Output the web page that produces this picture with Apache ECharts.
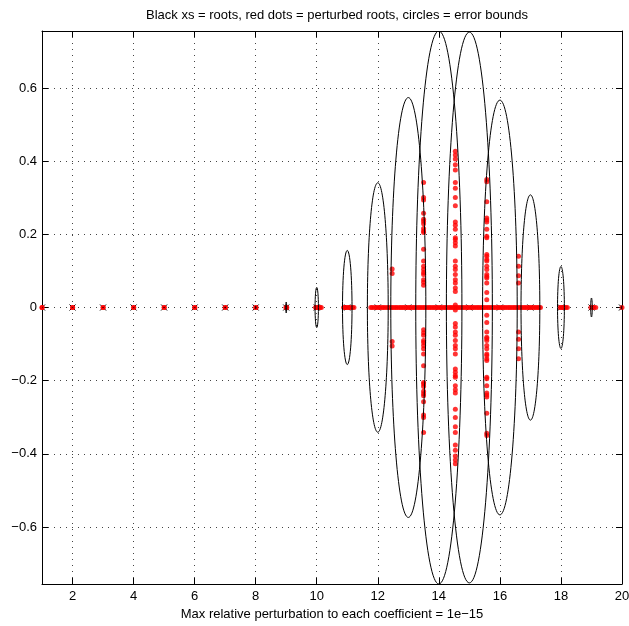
<!DOCTYPE html>
<html><head><meta charset="utf-8">
<script src="https://cdn.jsdelivr.net/npm/echarts@6/dist/echarts.min.js"></script>
<style>html,body{margin:0;padding:0;background:#fff}#c{width:629px;height:626px}</style>
</head><body><div id="c"></div>
<script>
// ---- data ----
const titleText = 'Black xs = roots, red dots = perturbed roots, circles = error bounds';
const xLabelText = 'Max relative perturbation to each coefficient = 1e\u221215';
const roots = [1,2,3,4,5,6,7,8,9,10,11,12,13,14,15,16,17,18,19,20];
const boundRadii = [0.0005,0.0005,0.0005,0.0008,0.001,0.001,0.0015,0.003,0.015,0.055,0.156,0.341,0.574,0.756,0.753,0.567,0.308,0.112,0.026,0.005];
const xTicks = [2,4,6,8,10,12,14,16,18,20];
const yTicks = [-0.6,-0.4,-0.2,0,0.2,0.4,0.6];
const xRange = [1, 20];
const yRange = [-0.756, 0.756];

// perturbed roots lying on the real axis
const realPerturbed = [
  1.0,1.003,2.0,2.004,3.0,3.005,4.0,4.006,5.0,5.006,6.0,6.008,7.0,7.01,8.0,8.012,
  8.99,9.005,9.02,
  9.96,9.99,10.03,10.07,10.11,10.15,
  10.88,10.92,10.97,11.02,11.07,11.12,11.17,11.22,
  11.77,11.82,11.89,11.95,12.01,12.06,12.13,12.18,12.24,12.31,12.36,12.42,12.47,12.53,12.59,12.64,12.71,
  12.76,12.82,12.87,12.93,12.99,13.04,13.1,13.16,13.21,13.27,13.33,13.38,13.44,13.5,13.55,13.61,13.67,
  13.72,13.78,13.84,13.89,13.95,14.01,14.06,14.12,14.18,14.23,14.29,14.35,14.4,14.46,14.52,14.58,14.63,
  14.69,14.75,14.8,14.86,14.92,14.97,15.03,15.09,15.14,15.2,15.26,15.31,15.37,15.43,15.48,15.54,15.6,
  15.65,15.71,15.77,15.82,15.88,15.94,15.99,16.05,16.11,16.16,16.22,16.28,16.33,16.39,16.45,16.5,16.56,
  16.62,16.67,16.73,16.79,16.84,16.9,16.96,17.01,17.07,17.13,17.18,17.24,17.29,17.33,
  17.97,18.01,18.06,18.11,18.16,18.21,
  18.98,19.03,19.08,19.14,
  20.0,20.04
];
// complex conjugate pairs: real part of each column and positive imaginary parts
const colX = [12.47, 13.50, 14.54, 15.57, 16.61];
const colImag1 = [0.105, 0.093];
const colImag2 = [0.342,0.301,0.294,0.258,0.241,0.236,0.229,0.216,0.209,0.205,0.159,0.127,0.113,0.104,0.096,0.090,0.076,0.069,0.061];
const colImag3 = [0.427,0.417,0.406,0.390,0.376,0.342,0.326,0.301,0.278,0.234,0.225,0.214,0.191,0.186,0.177,0.168,0.127,0.113,0.104,0.090,0.076,0.067,0.053,0.044,0.007];
const colImag4 = [0.350,0.344,0.289,0.245,0.239,0.234,0.214,0.195,0.191,0.145,0.140,0.131,0.127,0.113,0.104,0.090,0.085,0.081,0.067,0.041,0.021];
const colImag5 = [0.140,0.113,0.087,0.067];

// ---- build ----
const FONT = 'Liberation Sans';
const FS = 13;
const redData = realPerturbed.map(x => [x, 0]);
[colImag1, colImag2, colImag3, colImag4, colImag5].forEach((arr, i) => {
  arr.forEach(v => { redData.push([colX[i], v]); redData.push([colX[i], -v]); });
});
const ellData = roots.map((r, i) => [r, boundRadii[i]]);
const xData = roots.map(r => [r, 0]);
const xLabData = xTicks.map(v => [v, yRange[0]]);

const fmtY = v => {
  if (Math.abs(v * 5 - Math.round(v * 5)) > 1e-6) return '{h|.}';
  if (Math.abs(v) < 1e-9) return '0';
  return v.toFixed(1).replace('-', '\u2212');
};
const hiddenRich = {h: {color: 'rgba(0,0,0,0)', fontSize: 1}};

const gridLine = {show: true, lineStyle: {color: '#444', width: 1, type: [1, 5]}};
const axisLine = {show: true, onZero: false, lineStyle: {color: '#000', width: 1}};
const tick = {show: true, inside: true, length: 6, lineStyle: {color: '#000'}};

const chart = echarts.init(document.getElementById('c'), null, {renderer: 'canvas'});
chart.setOption({
  animation: false,
  backgroundColor: '#fff',
  title: {text: titleText, left: 332, top: 4, textAlign: 'center',
    textStyle: {fontFamily: FONT, fontSize: FS, fontWeight: 'normal', color: '#000'}},
  grid: {left: 42, right: 7, top: 31, bottom: 42, containLabel: false},
  xAxis: [
    {type: 'value', min: xRange[0], max: xRange[1], splitNumber: 10,
     axisLine, axisTick: tick, splitLine: gridLine,
     axisLabel: {show: false},
     name: xLabelText, nameLocation: 'middle', nameGap: 24,
     nameTextStyle: {fontFamily: FONT, fontSize: FS, color: '#000'}},
    {type: 'value', position: 'top', min: xRange[0], max: xRange[1], splitNumber: 10,
     axisLine, axisTick: tick, splitLine: {show: false}, axisLabel: {show: false}}
  ],
  yAxis: [
    {type: 'value', min: yRange[0], max: yRange[1], splitNumber: 8,
     axisLine, axisTick: tick, splitLine: gridLine,
     axisLabel: {formatter: fmtY, rich: hiddenRich, hideOverlap: false, color: '#000', fontFamily: FONT, fontSize: FS, margin: 5}},
    {type: 'value', position: 'right', min: yRange[0], max: yRange[1], splitNumber: 8,
     axisLine, axisTick: tick, splitLine: {show: false}, axisLabel: {show: false}}
  ],
  series: [
    {type: 'custom', name: 'xTickLabels', data: xLabData, z: 5, clip: false, silent: true,
     renderItem: (params, api) => {
       const c = api.coord([api.value(0), api.value(1)]);
       return {type: 'text', x: c[0], y: c[1] + 6,
         style: {text: String(api.value(0)), fill: '#000', font: FS + 'px "' + FONT + '"',
                 textAlign: 'center', textVerticalAlign: 'top'}};
     }},
    {type: 'custom', name: 'roots', data: xData, z: 2, clip: true,
     renderItem: (params, api) => {
       const c = api.coord([api.value(0), api.value(1)]);
       const h = 3;
       return {type: 'group', children: [
         {type: 'line', shape: {x1: c[0]-h, y1: c[1]-h, x2: c[0]+h, y2: c[1]+h}, style: {stroke: '#000', lineWidth: 1}},
         {type: 'line', shape: {x1: c[0]-h, y1: c[1]+h, x2: c[0]+h, y2: c[1]-h}, style: {stroke: '#000', lineWidth: 1}}
       ]};
     }},
    {type: 'scatter', name: 'perturbed', data: redData, z: 3, symbol: 'circle', symbolSize: 5,
     itemStyle: {color: '#ff0000'}, clip: true},
    {type: 'custom', name: 'bounds', data: ellData, z: 4, clip: true,
     renderItem: (params, api) => {
       const c = api.coord([api.value(0), 0]);
       const s = api.size([api.value(1), api.value(1)]);
       return {type: 'ellipse', shape: {cx: c[0], cy: c[1], rx: Math.max(s[0], 0.3), ry: Math.max(s[1], 0.3)},
         style: {fill: null, stroke: '#000', lineWidth: 1}};
     }}
  ]
});
</script></body></html>
